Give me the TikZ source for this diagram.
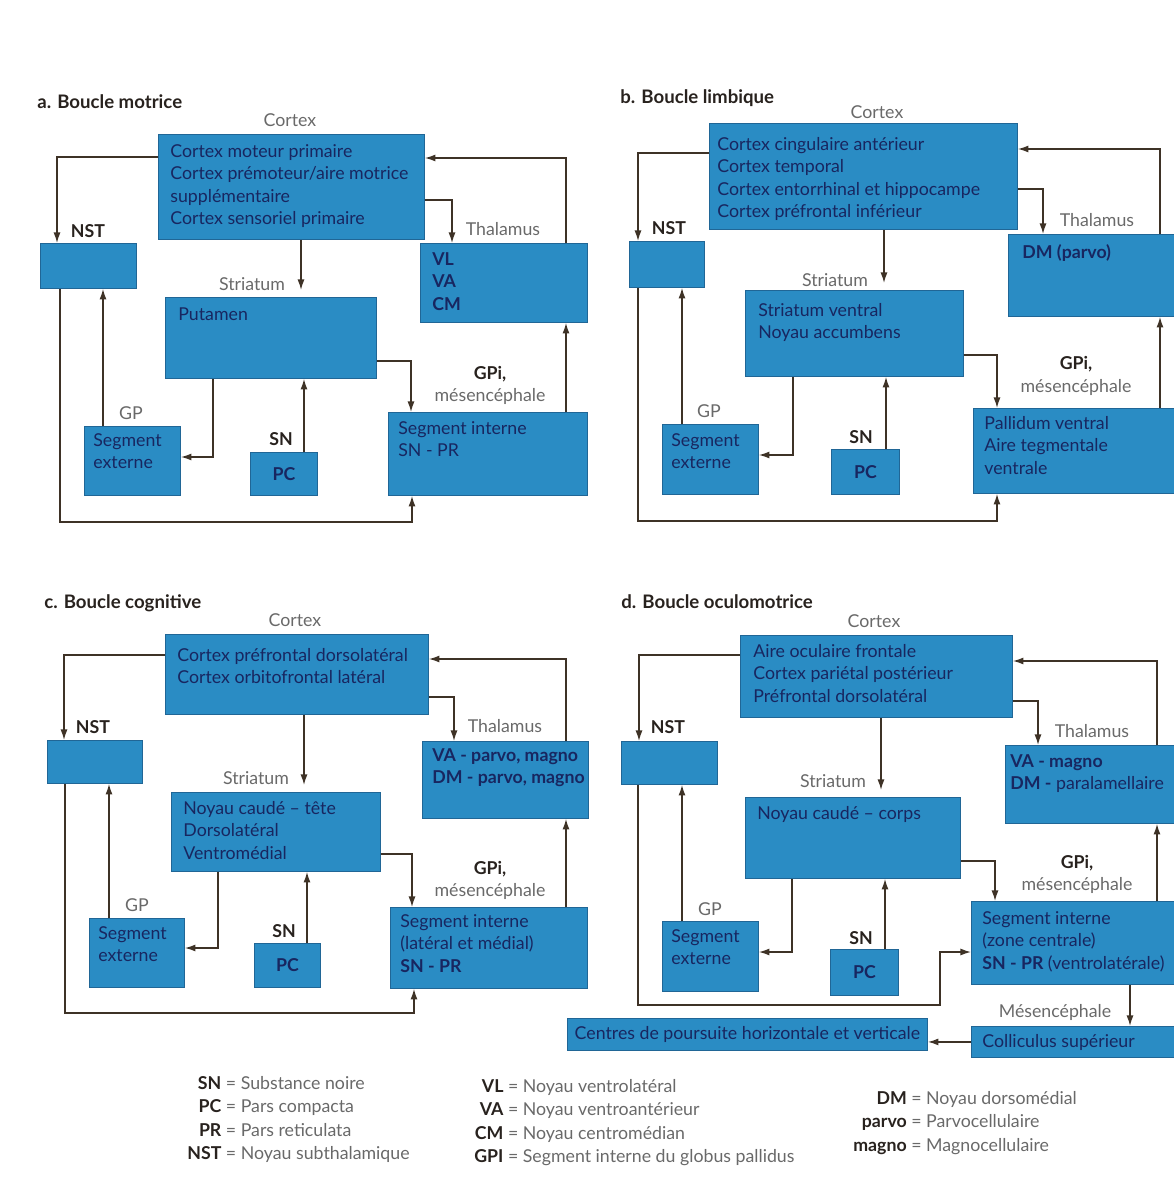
\documentclass[tikz,border=0pt]{standalone}
\usepackage{fontspec}
\setmainfont{Lato}
\usetikzlibrary{arrows.meta}

\definecolor{bleu}{RGB}{42,140,196}
\definecolor{bord}{RGB}{32,102,150}
\definecolor{marine}{RGB}{24,38,96}
\definecolor{gris}{RGB}{105,105,105}
\definecolor{fonce}{RGB}{40,34,30}
\definecolor{fleche}{RGB}{62,50,38}

\newcommand{\corps}{\fontsize{10.1}{12.8}\selectfont}
% boite : nom, x1, y1, x2, y2 (en pixels)
\newcommand{\bloc}[5]{\node[bloc, minimum width={(#4-#2)*0.02cm}, minimum height={(#5-#3)*0.02cm}] (#1) at (#2,#3) {};}

\tikzset{
  bloc/.style={draw=bord, fill=bleu, line width=0.5pt, inner sep=0pt, anchor=north west},
  txt/.style={anchor=north west, inner sep=0pt, align=left, text=marine, font=\corps},
  region/.style={anchor=base, inner sep=0pt, text=gris, font=\corps},
  gras/.style={anchor=base, inner sep=0pt, text=fonce, font=\corps\bfseries},
  titre/.style={anchor=base west, inner sep=0pt, text=fonce, font=\fontsize{10.6}{13}\selectfont\bfseries},
  legende/.style={anchor=base west, inner sep=0pt, text=gris, font=\corps},
  fl/.style={draw=fleche, line width=0.8pt, -{Latex[length=6pt,width=4pt]}},
}

\begin{document}
\begin{tikzpicture}[x=0.02cm, y=-0.02cm]
  \useasboundingbox (0,0) rectangle (1173,1183);

  % ---------- a. Boucle motrice
  \node[titre] (titA) at (37,108) {a. Boucle motrice};
  \bloc{ctxA}{158}{134}{424}{239}
  \bloc{nstA}{40}{243}{136}{288}
  \bloc{thalA}{420}{243}{587}{322}
  \bloc{strA}{165}{297}{376}{378}
  \bloc{gpeA}{84}{426}{180}{495}
  \bloc{pcA}{250}{452}{317}{495}
  \bloc{gpiA}{388}{412}{587}{495}
  \node[txt] (ctxA-t) at (170,144) {Cortex moteur primaire\\Cortex prémoteur/aire motrice\\supplémentaire\\Cortex sensoriel primaire};
  \node[txt, font=\corps\bfseries] (thalA-t) at (432,252) {VL\\VA\\CM};
  \node[txt] (strA-t) at (178,307) {Putamen};
  \node[txt] (gpeA-t) at (93,433) {Segment\\externe};
  \node[txt, anchor=center, font=\corps\bfseries] (pcA-t) at (pcA) {PC};
  \node[txt] (gpiA-t) at (398,421) {Segment interne\\SN - PR};
  \node[region] (lctxA) at (290,126) {Cortex};
  \node[region] (lthalA) at (503,235) {Thalamus};
  \node[region] (lstrA) at (252,290) {Striatum};
  \node[region] (lgpA) at (131,419) {GP};
  \node[gras] (lnstA) at (88,237) {NST};
  \node[gras] (lsnA) at (281,445) {SN};
  \node[gras] (lgpiA) at (490,379) {GPi,};
  \node[region] (lmesA) at (490,401) {mésencéphale};
  \draw[fl] (ctxA.west |- 0,157) -| (nstA.north -| 57,0);
  \draw[fl] (ctxA.east |- 0,200) -| (thalA.north -| 452,0);
  \draw[fl] (thalA.north -| 566,0) |- (ctxA.east |- 0,158);
  \draw[fl, shorten >=4pt] (ctxA.south -| 301,0) -- (strA.north -| 301,0);
  \draw[fl] (strA.east |- 0,361) -| (gpiA.north -| 411,0);
  \draw[fl] (gpiA.north -| 566,0) -- (thalA.south -| 566,0);
  \draw[fl] (strA.south -| 213,0) |- (gpeA.east |- 0,457);
  \draw[fl] (gpeA.north -| 103,0) -- (nstA.south -| 103,0);
  \draw[fl] (pcA.north -| 304,0) -- (strA.south -| 304,0);
  \draw[fl] (nstA.south -| 60,0) -- ++(0,233) -| (gpiA.south -| 412,0);

  % ---------- b. Boucle limbique
  \node[titre] (titB) at (620,103) {b. Boucle limbique};
  \bloc{ctxB}{709}{123}{1017}{229}
  \bloc{nstB}{629}{241}{704}{287}
  \bloc{thalB}{1008}{234}{1175}{316}
  \bloc{strB}{745}{290}{963}{376}
  \bloc{gpeB}{662}{424}{758}{494}
  \bloc{pcB}{831}{449}{899}{494}
  \bloc{gpiB}{973}{408}{1175}{493}
  \node[txt] (ctxB-t) at (717,137) {Cortex cingulaire antérieur\\Cortex temporal\\Cortex entorrhinal et hippocampe\\Cortex préfrontal inférieur};
  \node[txt, font=\corps\bfseries] (thalB-t) at (1022,244) {DM (parvo)};
  \node[txt] (strB-t) at (758,303) {Striatum ventral\\Noyau accumbens};
  \node[txt] (gpeB-t) at (671,433) {Segment\\externe};
  \node[txt, anchor=center, font=\corps\bfseries] (pcB-t) at (pcB) {PC};
  \node[txt] (gpiB-t) at (984,416) {Pallidum ventral\\Aire tegmentale\\ventrale};
  \node[region] (lctxB) at (877,118) {Cortex};
  \node[region] (lthalB) at (1097,226) {Thalamus};
  \node[region] (lstrB) at (835,286) {Striatum};
  \node[region] (lgpB) at (709,417) {GP};
  \node[gras] (lnstB) at (669,234) {NST};
  \node[gras] (lsnB) at (861,443) {SN};
  \node[gras] (lgpiB) at (1076,369) {GPi,};
  \node[region] (lmesB) at (1076,392) {mésencéphale};
  \draw[fl] (ctxB.west |- 0,153) -| (nstB.north -| 638,0);
  \draw[fl] (ctxB.east |- 0,189) -| (thalB.north -| 1043,0);
  \draw[fl] (thalB.north -| 1160,0) |- (ctxB.east |- 0,149);
  \draw[fl, shorten >=4pt] (ctxB.south -| 884,0) -- (strB.north -| 884,0);
  \draw[fl] (strB.east |- 0,355) -| (gpiB.north -| 997,0);
  \draw[fl] (gpiB.north -| 1160,0) -- (thalB.south -| 1160,0);
  \draw[fl] (strB.south -| 793,0) |- (gpeB.east |- 0,455);
  \draw[fl] (gpeB.north -| 682,0) -- (nstB.south -| 682,0);
  \draw[fl] (pcB.north -| 886,0) -- (strB.south -| 886,0);
  \draw[fl] (nstB.south -| 638,0) -- ++(0,233) -| (gpiB.south -| 997,0);

  % ---------- c. Boucle cognitive
  \node[titre] (titC) at (44,608) {c. Boucle cognitive};
  \bloc{ctxC}{165}{634}{428}{714}
  \bloc{nstC}{47}{740}{142}{783}
  \bloc{thalC}{422}{741}{588}{818}
  \bloc{strC}{171}{792}{380}{871}
  \bloc{gpeC}{89}{918}{184}{987}
  \bloc{pcC}{254}{943}{320}{987}
  \bloc{gpiC}{390}{907}{587}{988}
  \node[txt] (ctxC-t) at (177,648) {Cortex préfrontal dorsolatéral\\Cortex orbitofrontal latéral};
  \node[txt, font=\corps\bfseries] (thalC-t) at (432,748) {VA - parvo, magno\\DM - parvo, magno};
  \node[txt] (strC-t) at (183,801) {Noyau caudé -- tête\\Dorsolatéral\\Ventromédial};
  \node[txt] (gpeC-t) at (98,926) {Segment\\externe};
  \node[txt, anchor=center, font=\corps\bfseries] (pcC-t) at (pcC) {PC};
  \node[txt] (gpiC-t) at (400,914) {Segment interne\\(latéral et médial)\\\textbf{SN - PR}};
  \node[region] (lctxC) at (295,626) {Cortex};
  \node[region] (lthalC) at (505,732) {Thalamus};
  \node[region] (lstrC) at (256,784) {Striatum};
  \node[region] (lgpC) at (137,911) {GP};
  \node[gras] (lnstC) at (93,733) {NST};
  \node[gras] (lsnC) at (284,937) {SN};
  \node[gras] (lgpiC) at (490,874) {GPi,};
  \node[region] (lmesC) at (490,896) {mésencéphale};
  \draw[fl] (ctxC.west |- 0,655) -| (nstC.north -| 64,0);
  \draw[fl] (ctxC.east |- 0,697) -| (thalC.north -| 454,0);
  \draw[fl] (thalC.north -| 566,0) |- (ctxC.east |- 0,659);
  \draw[fl, shorten >=4pt] (ctxC.south -| 304,0) -- (strC.north -| 304,0);
  \draw[fl] (strC.east |- 0,854) -| (gpiC.north -| 412,0);
  \draw[fl] (gpiC.north -| 566,0) -- (thalC.south -| 566,0);
  \draw[fl] (strC.south -| 218,0) |- (gpeC.east |- 0,948);
  \draw[fl] (gpeC.north -| 109,0) -- (nstC.south -| 109,0);
  \draw[fl] (pcC.north -| 307,0) -- (strC.south -| 307,0);
  \draw[fl] (nstC.south -| 65,0) -- ++(0,229) -| (gpiC.south -| 414,0);

  % ---------- d. Boucle oculomotrice
  \node[titre] (titD) at (621,608) {d. Boucle oculomotrice};
  \bloc{ctxD}{740}{635}{1012}{717}
  \bloc{nstD}{621}{741}{717}{784}
  \bloc{thalD}{1005}{745}{1175}{823}
  \bloc{strD}{745}{797}{960}{878}
  \bloc{gpeD}{662}{921}{758}{991}
  \bloc{pcD}{830}{949}{898}{995}
  \bloc{gpiD}{971}{901}{1175}{984}
  \bloc{colD}{971}{1026}{1175}{1057}
  \bloc{ctrD}{567}{1018}{927}{1050}
  \node[txt] (ctxD-t) at (753,644) {Aire oculaire frontale\\Cortex pariétal postérieur\\Préfrontal dorsolatéral};
  \node[txt] (thalD-t) at (1010,754) {\textbf{VA - magno}\\\textbf{DM -} paralamellaire};
  \node[txt] (strD-t) at (757,806) {Noyau caudé -- corps};
  \node[txt] (gpeD-t) at (671,929) {Segment\\externe};
  \node[txt, anchor=center, font=\corps\bfseries] (pcD-t) at (pcD) {PC};
  \node[txt] (gpiD-t) at (982,911) {Segment interne\\(zone centrale)\\\textbf{SN - PR} (ventrolatérale)};
  \node[txt] (colD-t) at (982,1034) {Colliculus supérieur};
  \node[txt, anchor=center] (ctrD-t) at (ctrD) {Centres de poursuite horizontale et verticale};
  \node[region] (lctxD) at (874,627) {Cortex};
  \node[region] (lthalD) at (1092,737) {Thalamus};
  \node[region] (lstrD) at (833,787) {Striatum};
  \node[region] (lgpD) at (710,915) {GP};
  \node[gras] (lnstD) at (668,733) {NST};
  \node[gras] (lsnD) at (861,944) {SN};
  \node[gras] (lgpiD) at (1077,868) {GPi,};
  \node[region] (lmesD) at (1077,890) {mésencéphale};
  \node[region] (lmes2D) at (1055,1017) {Mésencéphale};
  \coordinate (coudeD) at (940,1005);
  \draw[fl] (ctxD.west |- 0,655) -| (nstD.north -| 639,0);
  \draw[fl] (ctxD.east |- 0,701) -| (thalD.north -| 1038,0);
  \draw[fl] (thalD.north -| 1157,0) |- (ctxD.east |- 0,661);
  \draw[fl, shorten >=4pt] (ctxD.south -| 881,0) -- (strD.north -| 881,0);
  \draw[fl] (strD.east |- 0,861) -| (gpiD.north -| 995,0);
  \draw[fl] (gpiD.north -| 1157,0) -- (thalD.south -| 1157,0);
  \draw[fl] (strD.south -| 792,0) |- (gpeD.east |- 0,952);
  \draw[fl] (gpeD.north -| 682,0) -- (nstD.south -| 682,0);
  \draw[fl] (pcD.north -| 885,0) -- (strD.south -| 885,0);
  \draw[fl] (nstD.south -| 638,0) |- (coudeD) |- (gpiD.west |- 0,952);
  \draw[fl] (gpiD.south -| 1130,0) -- (colD.north -| 1130,0);
  \draw[fl] (colD.west) -- (ctrD.east |- colD.west);

  % ---------- legende
  \renewcommand{\arraystretch}{1.05}
  \node[legende] (leg1) at (187,1089) {\begin{tabular}[t]{@{}r@{ = }l@{}}
    \textcolor{fonce}{\bfseries SN} & Substance noire\\
    \textcolor{fonce}{\bfseries PC} & Pars compacta\\
    \textcolor{fonce}{\bfseries PR} & Pars reticulata\\
    \textcolor{fonce}{\bfseries NST} & Noyau subthalamique
  \end{tabular}};
  \node[legende] (leg2) at (474,1092) {\begin{tabular}[t]{@{}r@{ = }l@{}}
    \textcolor{fonce}{\bfseries VL} & Noyau ventrolatéral\\
    \textcolor{fonce}{\bfseries VA} & Noyau ventroantérieur\\
    \textcolor{fonce}{\bfseries CM} & Noyau centromédian\\
    \textcolor{fonce}{\bfseries GPI} & Segment interne du globus pallidus
  \end{tabular}};
  \node[legende] (leg3) at (853,1104) {\begin{tabular}[t]{@{}r@{ = }l@{}}
    \textcolor{fonce}{\bfseries DM} & Noyau dorsomédial\\
    \textcolor{fonce}{\bfseries parvo} & Parvocellulaire\\
    \textcolor{fonce}{\bfseries magno} & Magnocellulaire
  \end{tabular}};
\end{tikzpicture}
\end{document}
